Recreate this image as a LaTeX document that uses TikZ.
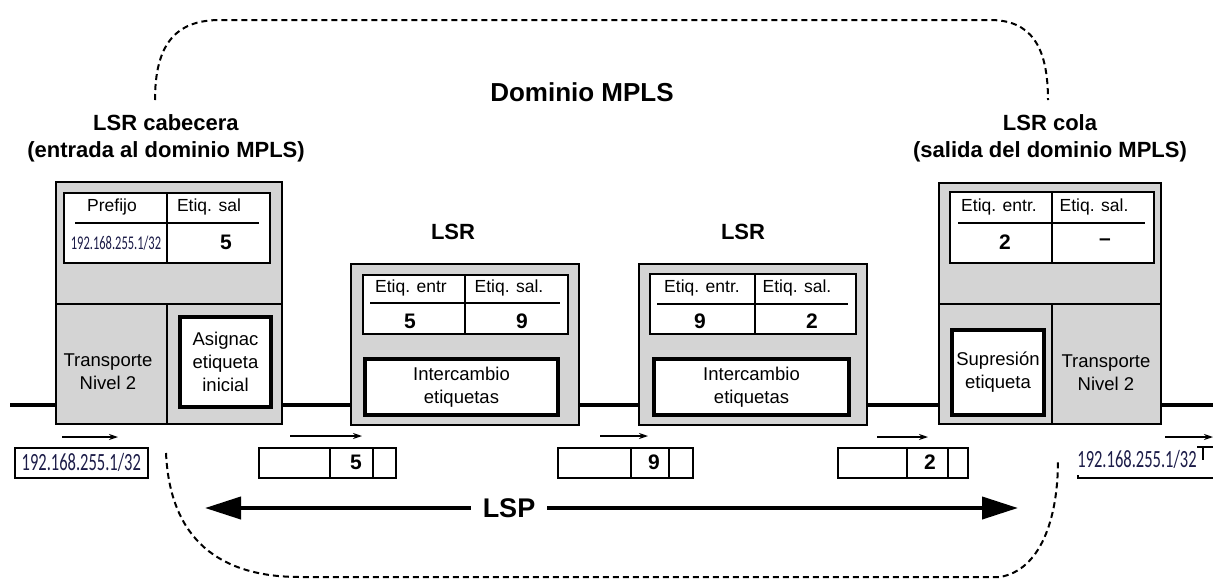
\documentclass[tikz,border=0pt]{standalone}
\usepackage{fontspec}
\setmainfont{Liberation Sans}
\newfontfamily\ipfont{Carlito}
\usepackage{graphicx}
\usetikzlibrary{arrows.meta}

\definecolor{lsrgray}{RGB}{212,212,212}
\definecolor{ipink}{RGB}{28,28,72}

\tikzset{
  lsrbox/.style={draw=black, line width=2pt, fill=lsrgray, anchor=north west, inner sep=0pt},
  tablebox/.style={draw=black, line width=1.8pt, fill=white, anchor=north west, inner sep=0pt},
  opbox/.style={draw=black, line width=4pt, fill=white, anchor=north west, inner sep=0pt},
  optext/.style={align=center, font=\fontsize{18.5}{23}\selectfont},
  hdr/.style={font=\fontsize{17.5}{20}\selectfont},
  val/.style={font=\bfseries\fontsize{21}{24}\selectfont},
  rtitle/.style={font=\bfseries\fontsize{22}{27}\selectfont, align=center},
  pkt/.style={draw=black, line width=1.6pt, anchor=north west, inner sep=0pt, minimum height=30pt},
  divline/.style={line width=1.6pt},
  hrule/.style={line width=1.4pt},
  flowarrow/.style={-{Stealth[length=9pt,width=6pt]}, line width=1.4pt},
  domainline/.style={dash pattern=on 6pt off 4pt, line width=2pt},
  wire/.style={line width=3.5pt},
  lsparrow/.style={line width=4pt, -{Triangle[length=36pt,width=22pt]}},
  iptext/.style={text=ipink, inner sep=0pt},
}

\begin{document}
\begin{tikzpicture}[x=1pt,y=-1pt]
\useasboundingbox (0,0) rectangle (1213,582);

% physical link crossing all routers
\coordinate (linkL) at (10,405);
\coordinate (linkR) at (1213,405);
\draw[wire] (linkL) -- (linkR);

% MPLS domain outline
\coordinate (domTL) at (155,100);
\coordinate (domTR) at (1048,100);
\coordinate (domBL) at (166,453);
\coordinate (domBR) at (1058,460);
\draw[domainline] (domTL) .. controls (155,45) and (175,20) .. (220,20) -- (990,20)
  .. controls (1030,20) and (1048,45) .. (domTR);
\draw[domainline] (domBL) .. controls (170,540) and (220,577) .. (300,577) -- (1000,577)
  .. controls (1040,570) and (1058,520) .. (domBR);

\node[font=\bfseries\fontsize{26}{30}\selectfont] (dom) at (582,92) {Dominio MPLS};

% ---------- ingress LSR ----------
\node[rtitle] (cabT) at (166,138) {LSR cabecera\\(entrada al dominio MPLS)};
\node[lsrbox, minimum width=226pt, minimum height=242pt] (cab) at (55,181) {};
\node[tablebox, minimum width=206pt, minimum height=70pt] (cabTab) at (63,192) {};
\draw[divline] (167,192) -- (167,262);
\draw[hrule] (75,223) -- (259,223);
\node[hdr] (cabH1) at (112,207) {Prefijo};
\node[hdr] (cabH2) at (209,207) {Etiq. sal};
\node[iptext] (cabV1) at (116,243) {\scalebox{1}[1.55]{\ipfont\fontsize{12.5}{14}\selectfont 192.168.255.1/32}};
\node[val] (cabV2) at (226,242) {5};
\draw[divline] (55,304) -- (281,304);
\draw[divline] (167,304) -- (167,423);
\node[optext] (cabL2) at (108,372) {Transporte\\Nivel 2};
\node[opbox, minimum width=91pt, minimum height=90pt] (asig) at (178,315) {};
\node[optext] (asigT) at (asig.center) {Asignac\\etiqueta\\inicial};

% ---------- transit LSR 1 ----------
\node[rtitle] (lsr1T) at (453,232) {LSR};
\node[lsrbox, minimum width=228pt, minimum height=161pt] (lsr1) at (350,263) {};
\node[tablebox, minimum width=205pt, minimum height=59pt] (lsr1Tab) at (362,274) {};
\draw[divline] (465,274) -- (465,333);
\draw[hrule] (370,303) -- (560,303);
\node[hdr] (lsr1H1) at (411,288) {Etiq. entr};
\node[hdr] (lsr1H2) at (509,288) {Etiq. sal.};
\node[val] (lsr1V1) at (410,321) {5};
\node[val] (lsr1V2) at (522,321) {9};
\node[opbox, minimum width=193pt, minimum height=56pt] (swap1) at (363,357) {};
\node[optext] (swap1T) at (swap1.center) {Intercambio\\etiquetas};

% ---------- transit LSR 2 ----------
\node[rtitle] (lsr2T) at (743,232) {LSR};
\node[lsrbox, minimum width=228pt, minimum height=161pt] (lsr2) at (638,263) {};
\node[tablebox, minimum width=206pt, minimum height=60pt] (lsr2Tab) at (649,273) {};
\draw[divline] (755,273) -- (755,333);
\draw[hrule] (657,304) -- (848,304);
\node[hdr] (lsr2H1) at (702,288) {Etiq. entr.};
\node[hdr] (lsr2H2) at (797,288) {Etiq. sal.};
\node[val] (lsr2V1) at (700,321) {9};
\node[val] (lsr2V2) at (812,321) {2};
\node[opbox, minimum width=195pt, minimum height=56pt] (swap2) at (652,357) {};
\node[optext] (swap2T) at (swap2.center) {Intercambio\\etiquetas};

% ---------- egress LSR ----------
\node[rtitle] (colaT) at (1050,138) {LSR cola\\(salida del dominio MPLS)};
\node[lsrbox, minimum width=222pt, minimum height=241pt] (cola) at (938,182) {};
\node[tablebox, minimum width=204pt, minimum height=71pt] (colaTab) at (949,191) {};
\draw[divline] (1052,191) -- (1052,262);
\draw[hrule] (958,223) -- (1145,223);
\node[hdr] (colaH1) at (999,207) {Etiq. entr.};
\node[hdr] (colaH2) at (1094,207) {Etiq. sal.};
\node[val] (colaV1) at (1005,242) {2};
\node[val] (colaV2) at (1105,242) {--};
\draw[divline] (938,304) -- (1160,304);
\draw[divline] (1052,304) -- (1052,423);
\node[opbox, minimum width=92pt, minimum height=85pt] (pop) at (950,328) {};
\node[optext] (popT) at (pop.center) {Supresión\\etiqueta};
\node[optext] (colaL2) at (1106,373) {Transporte\\Nivel 2};

% ---------- packets on the wire ----------
\node[pkt, minimum width=133pt] (ipL) at (14,447) {};
\node[iptext] (ipLT) at (ipL.center) {\scalebox{1}[1.5]{\ipfont\fontsize{16.5}{18}\selectfont 192.168.255.1/32}};

\node[pkt, minimum width=137pt] (p1) at (258,447) {};
\draw[divline] (330,447) -- (330,477);
\draw[divline] (373,447) -- (373,477);
\node[val] (p1V) at (356,462) {5};

\node[pkt, minimum width=135pt] (p2) at (557,447) {};
\draw[divline] (631,447) -- (631,477);
\draw[divline] (669,447) -- (669,477);
\node[val] (p2V) at (654,462) {9};

\node[pkt, minimum width=130pt] (p3) at (837,447) {};
\draw[divline] (907,447) -- (907,477);
\draw[divline] (948,447) -- (948,477);
\node[val] (p3V) at (930,462) {2};

% outgoing packet, running off the right edge
\draw[divline] (1213,447) -- (1078,447) -- (1078,478) -- (1213,478);
\draw[divline] (1203,447) -- (1203,460);
\node[fill=white, inner sep=0pt, minimum width=120pt, minimum height=32pt] (ipR) at (1137,459) {};
\node[iptext] (ipRT) at (ipR.center) {\scalebox{1}[1.5]{\ipfont\fontsize{16.5}{18}\selectfont 192.168.255.1/32}};

% direction of travel
\coordinate (f1a) at (62,437);   \coordinate (f1b) at (118,437);
\coordinate (f2a) at (290,436);  \coordinate (f2b) at (362,436);
\coordinate (f3a) at (600,436);  \coordinate (f3b) at (648,436);
\coordinate (f4a) at (877,437);  \coordinate (f4b) at (928,437);
\coordinate (f5a) at (1165,437); \coordinate (f5b) at (1213,437);
\draw[flowarrow] (f1a) -- (f1b);
\draw[flowarrow] (f2a) -- (f2b);
\draw[flowarrow] (f3a) -- (f3b);
\draw[flowarrow] (f4a) -- (f4b);
\draw[flowarrow] (f5a) -- (f5b);

% label switched path
\coordinate (lspL) at (205,508);
\coordinate (lspR) at (1018,508);
\node[font=\bfseries\fontsize{27}{30}\selectfont, inner sep=12pt] (lsp) at (509,508) {LSP};
\draw[lsparrow] (lsp.west) -- (lspL);
\draw[lsparrow] (lsp.east) -- (lspR);
\end{tikzpicture}
\end{document}
